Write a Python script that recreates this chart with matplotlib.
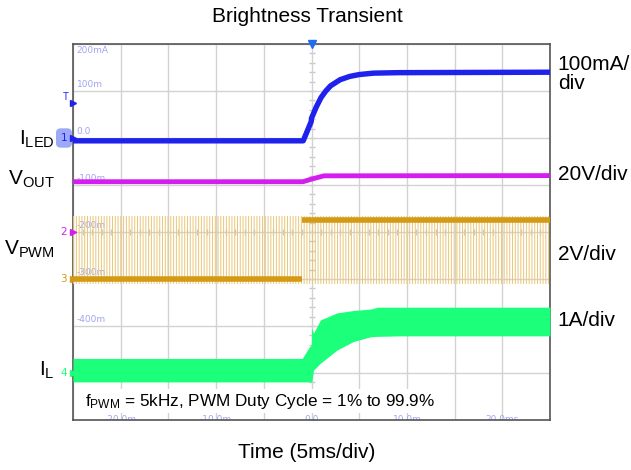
"""Scope capture: brightness transient of an LED driver (4 channels)."""

import matplotlib
matplotlib.use("Agg")
import matplotlib.pyplot as plt
import numpy as np

plt.rcParams["font.family"] = ["Liberation Sans", "DejaVu Sans"]
plt.rcParams["mathtext.fontset"] = "custom"
plt.rcParams["mathtext.rm"] = "Liberation Sans"
plt.rcParams["mathtext.it"] = "Liberation Sans"
plt.rcParams["hatch.linewidth"] = 0.7

# time axis in ms (5 ms/div, trigger at 0)
TIME_TICKS = [-20, -10, 0, 10, 20]
TIME_LABELS = ["-20.0m", "-10.0m", "0.0", "10.0m", "20.0ms"]

# channel 1 readout labels down the left edge (100 mA/div)
LEVEL_LABELS = ["200mA", "100m", "0.0", "-100m", "-200m", "-300m", "-400m", "-500m"]

# I_LED (A)
ILED_T = [-25, -0.87, -0.03, 0.0, 0.5, 1.0, 1.5, 2.0, 3.0, 4.0, 5.0, 6.5, 9.0, 25]
ILED_A = [-0.006, -0.006, 0.035, 0.042, 0.066, 0.086, 0.100, 0.111, 0.124,
          0.131, 0.135, 0.138, 0.139, 0.140]

# V_OUT (V)
VOUT_T = [-25, -0.9, 0.0, 1.3, 25]
VOUT_V = [21.4, 21.4, 22.5, 23.9, 24.0]

# V_PWM (V): solid level before/after the duty step, thin pulse envelope
PWM_STEP_T = -0.95
PWM_LOW = 0.0
PWM_HIGH = 2.49
PWM_EDGE_LO = -0.21
PWM_EDGE_HI = 2.66

# I_L ripple envelope (A)
IL_T = [-25, -0.97, -0.31, -0.02, 0.0, 0.21, 0.94, 2.69, 4.40, 6.18, 6.92, 9.4, 25]
IL_HI = [0.31, 0.31, 0.53, 0.60, 0.96, 0.85, 1.13, 1.28, 1.33, 1.36, 1.40, 1.40, 1.40]
IL_LO = [-0.19, -0.19, -0.19, -0.19, -0.21, 0.06, 0.21, 0.49, 0.67, 0.77, 0.78, 0.79, 0.79]

SCALES = {"iled": 0.1, "vout": 20.0, "vpwm": 2.0, "il": 1.0}
GROUND_DIV = {"iled": 6, "vout": 4, "vpwm": 3, "il": 1}

BLUE = "#1f22ec"
MAGENTA = "#d41ef0"
GOLD = "#d49a14"
GOLD_THIN = "#e9c677"
GREEN = "#1cff7a"
READOUT = "#a0a6f0"


def to_div(values, channel):
    """Convert channel values to screen divisions."""
    return GROUND_DIV[channel] + np.asarray(values, dtype=float) / SCALES[channel]


fig = plt.figure(figsize=(6.31, 4.70), dpi=100)
ax = fig.add_axes([73 / 631, 1 - 420 / 470, 477 / 631, 376 / 470])
ax.set_xlim(-25, 25)
ax.set_ylim(0, 8)

# graticule
ax.set_xticks(np.arange(-25, 26, 5))
ax.set_yticks(range(9))
ax.tick_params(length=0, labelbottom=False, labelleft=False)
ax.grid(color="#d2d2d2", lw=1.0, zorder=0)
for side in ax.spines.values():
    side.set_color("#555555")
    side.set_linewidth(1.2)
ax.plot(np.zeros(40), np.arange(0, 8, 0.2), ls="none", marker="_", ms=5,
        color="#c8c8c8", mew=1, zorder=1)
ax.plot(np.arange(-25, 25, 1.0), np.full(50, 4.0), ls="none", marker="|", ms=5,
        color="#c8c8c8", mew=1, zorder=1)

# readout labels
for i, label in enumerate(LEVEL_LABELS):
    level = 8 - i
    ax.text(-24.6, level - 0.05 if i == 0 else level + 0.04, label,
            fontsize=6.5, color=READOUT, family="DejaVu Sans",
            va="top" if i == 0 else "bottom", ha="left", zorder=2)
for tick, label in zip(TIME_TICKS, TIME_LABELS):
    ax.text(tick, 0.0, label, fontsize=6.5, color=READOUT, family="DejaVu Sans",
            ha="center", va="center", zorder=2, clip_on=True)

# V_PWM
ax.fill_between([-25, 25], to_div([PWM_EDGE_LO] * 2, "vpwm"),
                to_div([PWM_EDGE_HI] * 2, "vpwm"), facecolor="none",
                edgecolor=GOLD_THIN, hatch="||||||", lw=0, zorder=3)
ax.plot([-25, PWM_STEP_T], to_div([PWM_LOW] * 2, "vpwm"), color=GOLD, lw=4,
        solid_capstyle="butt", zorder=4)
ax.plot([PWM_STEP_T, 25], to_div([PWM_HIGH] * 2, "vpwm"), color=GOLD, lw=4,
        solid_capstyle="butt", zorder=4)

# I_L
ax.fill_between(IL_T, to_div(IL_LO, "il"), to_div(IL_HI, "il"), color=GREEN,
                lw=0, zorder=4)

# V_OUT and I_LED
ax.plot(VOUT_T, to_div(VOUT_V, "vout"), color=MAGENTA, lw=3.5, zorder=5)
ax.plot(ILED_T, to_div(ILED_A, "iled"), color=BLUE, lw=3.9, zorder=6)

# channel markers
ax.plot([0], [8], marker="v", color="#1e6ef0", ms=6, clip_on=False, zorder=7)
ax.plot([-25], [6.75], marker=">", color=BLUE, ms=4, clip_on=False, zorder=7)
ax.text(-25.5, 6.87, "T", color=BLUE, fontsize=7, ha="right", va="center")
markers = [(6.0, "1", BLUE), (4.0, "2", MAGENTA), (3.0, "3", GOLD), (1.0, "4", GREEN)]
for level, num, color in markers:
    ax.plot([-25], [level], marker=">", color=color, ms=4, clip_on=False, zorder=7)
    ax.text(-25.6, level, num, color=color, fontsize=7.5, ha="right", va="center",
            family="DejaVu Sans", clip_on=False,
            bbox=dict(boxstyle="round,pad=0.45", fc="#7d8cf2", ec="none", alpha=0.75)
            if num == "1" else None)

# channel names on the left
ax.text(-26.9, 5.98, r"I$_{\mathrm{LED}}$", fontsize=15, ha="right", va="center",
        clip_on=False)
ax.text(-26.9, 5.12, r"V$_{\mathrm{OUT}}$", fontsize=15, ha="right", va="center",
        clip_on=False)
ax.text(-26.9, 3.64, r"V$_{\mathrm{PWM}}$", fontsize=15, ha="right", va="center",
        clip_on=False)
ax.text(-26.9, 1.06, r"I$_{\mathrm{L}}$", fontsize=15, ha="right", va="center",
        clip_on=False)

# scale notes on the right
ax.text(25.8, 7.36, "100mA/\ndiv", fontsize=15, ha="left", va="center",
        linespacing=1.05, clip_on=False)
ax.text(25.8, 5.22, "20V/div", fontsize=15, ha="left", va="center", clip_on=False)
ax.text(25.8, 3.53, "2V/div", fontsize=15, ha="left", va="center", clip_on=False)
ax.text(25.8, 2.11, "1A/div", fontsize=15, ha="left", va="center", clip_on=False)

ax.text(-23.7, 0.40, r"f$_{\mathrm{PWM}}$ = 5kHz, PWM Duty Cycle = 1% to 99.9%",
        fontsize=12.3, ha="left", va="center", zorder=8,
        bbox=dict(boxstyle="square,pad=0.15", fc="white", ec="none"))

fig.text(307 / 631, 1 - 16 / 470, "Brightness Transient", fontsize=15,
         ha="center", va="center")
fig.text(307 / 631, 1 - 453 / 470, "Time (5ms/div)", fontsize=15,
         ha="center", va="center")

fig.savefig("out.png", dpi=100)
